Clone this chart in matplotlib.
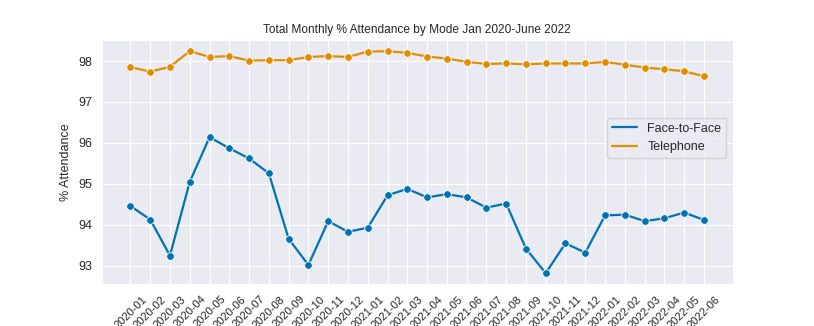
import matplotlib
matplotlib.use("Agg")
import matplotlib.pyplot as plt
import seaborn as sns

# monthly labels Jan 2020 - Jun 2022
months = ['2020-01', '2020-02', '2020-03', '2020-04', '2020-05', '2020-06',
          '2020-07', '2020-08', '2020-09', '2020-10', '2020-11', '2020-12',
          '2021-01', '2021-02', '2021-03', '2021-04', '2021-05', '2021-06',
          '2021-07', '2021-08', '2021-09', '2021-10', '2021-11', '2021-12',
          '2022-01', '2022-02', '2022-03', '2022-04', '2022-05', '2022-06']

face_to_face = [94.46, 94.13, 93.25, 95.05, 96.14, 95.87, 95.62, 95.26, 93.66, 93.02,
                94.09, 93.83, 93.93, 94.72, 94.88, 94.67, 94.75, 94.67, 94.42, 94.52,
                93.42, 92.82, 93.55, 93.32, 94.23, 94.25, 94.09, 94.16, 94.30, 94.12]

telephone = [97.85, 97.74, 97.86, 98.24, 98.10, 98.12, 98.01, 98.02, 98.02, 98.10,
             98.12, 98.10, 98.23, 98.24, 98.20, 98.11, 98.06, 97.98, 97.93, 97.94,
             97.92, 97.94, 97.94, 97.94, 97.98, 97.91, 97.84, 97.80, 97.75, 97.63]

sns.set_style("darkgrid")
plt.rcParams['font.family'] = ['Liberation Sans', 'DejaVu Sans']
colors = sns.color_palette("colorblind")

fig, ax = plt.subplots(figsize=(8.14, 3.26), dpi=100)
fig.subplots_adjust(left=0.125, right=0.9, top=0.877, bottom=0.128)

x = range(len(months))
ax.plot(x, face_to_face, color=colors[0], linewidth=1.6, label='Face-to-Face')
ax.plot(x, telephone, color=colors[1], linewidth=1.6, label='Telephone')
# markers drawn separately so the legend shows plain lines
ax.plot(x, face_to_face, 'o', color=colors[0], markersize=5.5, markeredgecolor='white', markeredgewidth=0.6)
ax.plot(x, telephone, 'o', color=colors[1], markersize=5.5, markeredgecolor='white', markeredgewidth=0.6)

ax.set_xticks(list(x))
ax.set_xticklabels(months, rotation=45, fontsize=8)
ax.tick_params(axis='y', labelsize=9)
ax.set_ylabel('% Attendance', fontsize=9)
ax.set_title('Total Monthly % Attendance by Mode Jan 2020-June 2022', fontsize=8.6, pad=5)
ax.legend(loc='center right', bbox_to_anchor=(1, 0.6), fontsize=9)

fig.savefig('out.png', dpi=100)
